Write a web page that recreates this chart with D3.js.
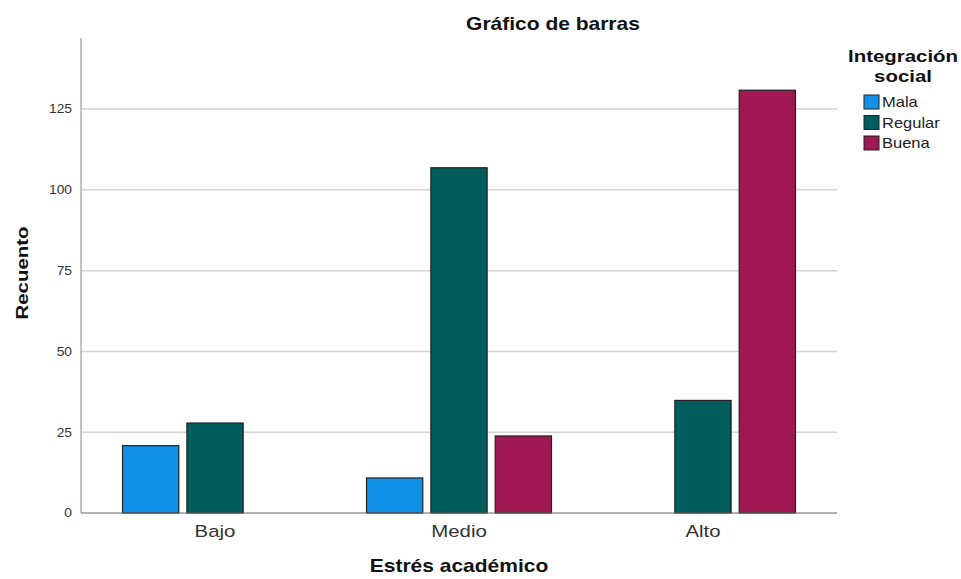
<!DOCTYPE html>
<html><head><meta charset="utf-8">
<script src="https://cdn.jsdelivr.net/npm/d3@7"></script>
<style>body{margin:0;background:#fff}svg{display:block}text{font-family:"Liberation Sans",Arial,sans-serif}</style>
</head><body>
<svg id="c" width="961" height="579"></svg>
<script>
const categories = ["Bajo","Medio","Alto"];
const seriesNames = ["Mala","Regular","Buena"];
const mala = [21, 11, 0];
const regular = [28, 107, 35];
const buena = [0, 24, 131];
const yTicks = [0,25,50,75,100,125];
const colors = ["#1192e8","#005d5d","#9f1853"];
const seriesVals = [mala, regular, buena];

(function(){
const svg = d3.select("#c");
const pL=81, pR=837, pT=38, pB=513;
const SX = 1.2;
const y = d3.scaleLinear().domain([0,147]).range([pB, pT]);
const x0 = d3.scaleBand().domain(categories).range([93,825]).paddingInner(0.2377).paddingOuter(0.119);
const x1 = d3.scaleBand().domain(seriesNames).range([0, x0.bandwidth()]).paddingInner(0.11);

function label(x, yy, str, size, bold, anchor, rot, sx){
  let t = `translate(${x},${yy})` + (rot ? ` rotate(${rot})` : "") + ` scale(${sx||SX},1)`;
  return svg.append("text").attr("transform", t).attr("text-anchor", anchor||"middle")
    .attr("font-size", size).attr("font-weight", bold ? "bold" : "normal")
    .attr("fill", bold ? "#111" : "#222").text(str);
}

// gridlines
svg.append("g").selectAll("line").data(yTicks.filter(d=>d>0)).join("line")
  .attr("x1",pL).attr("x2",pR).attr("y1",d=>y(d)).attr("y2",d=>y(d))
  .attr("stroke","#d4d4d4").attr("stroke-width",1.5);

// y axis
const ya = svg.append("g").attr("transform",`translate(${pL},0)`)
  .call(d3.axisLeft(y).tickValues(yTicks).tickSize(0).tickPadding(0));
ya.select(".domain").remove();
ya.selectAll("text").attr("x",0).attr("transform","translate(-9,0) scale(1.15,1)")
  .attr("font-size",12).attr("fill","#333").style("font-family","Liberation Sans, Arial, sans-serif");
svg.append("line").attr("x1",pL).attr("x2",pL).attr("y1",pT).attr("y2",pB).attr("stroke","#888").attr("stroke-width",1);

// bars
categories.forEach((c,i)=>{
  seriesNames.forEach((s,j)=>{
    const v = seriesVals[j][i];
    if(!v) return;
    svg.append("rect")
      .attr("x", x0(c)+x1(s)+0.5).attr("y", y(v)+0.5)
      .attr("width", x1.bandwidth()-1).attr("height", y(0)-y(v)-0.5)
      .attr("fill", colors[j]).attr("stroke","#222").attr("stroke-width",1.2);
  });
});

// x axis
svg.append("line").attr("x1",pL).attr("x2",pR).attr("y1",pB).attr("y2",pB).attr("stroke","#666").attr("stroke-width",1.2);
const xa = svg.append("g").attr("transform",`translate(0,${pB})`)
  .call(d3.axisBottom(x0).tickSize(0).tickPadding(12));
xa.select(".domain").remove();
xa.selectAll("text").attr("transform",`scale(${SX},1)`).attr("font-size",17).attr("fill","#333").style("font-family","Liberation Sans, Arial, sans-serif");

// titles
label(553, 30, "Gráfico de barras", 17.5, true);
label(459, 572, "Estrés académico", 17.5, true);
label(28, 273, "Recuento", 17, true, "middle", -90);

// legend
label(903, 62, "Integración", 17, true);
label(903, 82, "social", 17, true);
const lg = svg.append("g").selectAll("g").data(seriesNames).join("g").attr("transform",(d,i)=>`translate(864,${95+i*20.5})`);
lg.append("rect").attr("width",15).attr("height",14).attr("fill",(d,i)=>colors[i]).attr("stroke","#222").attr("stroke-width",1);
lg.append("text").attr("transform","translate(18,12) scale(1.18,1)").attr("font-size",14).attr("fill","#222").text(d=>d);
})();
</script>
</body></html>
